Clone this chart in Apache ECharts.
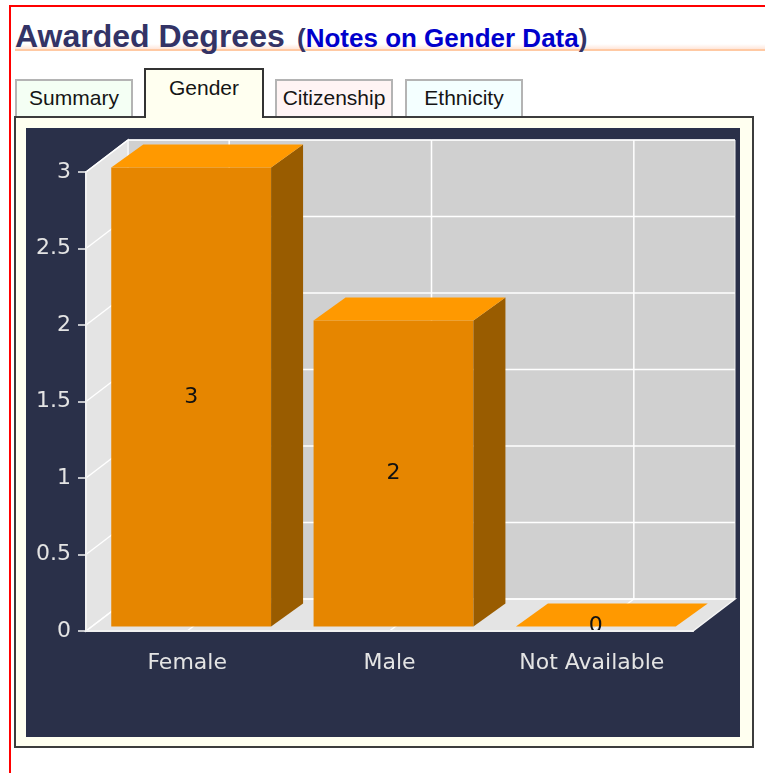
<!DOCTYPE html>
<html>
<head>
<meta charset="utf-8">
<title>Awarded Degrees</title>
<script src="https://cdn.jsdelivr.net/npm/echarts@6/dist/echarts.min.js"></script>
<style>
    html, body { margin: 0; padding: 0; background: #fff; width: 765px; height: 773px; overflow: hidden; }
    body { position: relative; font-family: 'Liberation Sans', Arial, sans-serif; }
    .frame { position: absolute; left: 9px; top: 5px; width: 800px; height: 800px; border-top: 2px solid #f00; border-left: 2px solid #f00; }
    .rule { position: absolute; left: 15px; top: 44px; width: 750px; height: 5px; background: linear-gradient(to bottom, rgba(255,232,222,0), #ffe6da); border-bottom: 2px solid #ffc9a3; }
    .title { position: absolute; left: 15px; top: 20px; font-size: 32px; line-height: 32px; font-weight: bold; color: #333366; white-space: nowrap; }
    .notes { position: absolute; left: 297px; top: 25px; font-size: 26px; line-height: 26px; font-weight: bold; color: #0000cc; white-space: nowrap; }
    .notes i { font-style: normal; color: #333366; }
    .tab { position: absolute; top: 79px; width: 118px; height: 38px; box-sizing: border-box; border: 2px solid #b4b4b4; border-bottom: none;
           font-size: 21px; line-height: 21px; padding-top: 6px; text-align: center; color: #151515; white-space: nowrap; }
    .tab.on { top: 68px; left: 144px; width: 120px; height: 50px; border-color: #333; background: #fffff0; padding-top: 7px; z-index: 3; }
    .panel { position: absolute; left: 14px; top: 116px; width: 740px; height: 632px; box-sizing: border-box; border: 2px solid #3c3c3c; background: #fffff0; z-index: 1; }
    #chart { position: absolute; left: 26px; top: 128px; width: 714px; height: 609px; z-index: 2; }
</style>
</head>
<body>
<div class="frame"></div>
<div class="rule"></div>
<div class="title">Awarded Degrees</div>
<div class="notes"><i>(</i>Notes on Gender Data<i>)</i></div>
<div class="tab" style="left:15px;background:#f4fff4;">Summary</div>
<div class="tab on">Gender</div>
<div class="tab" style="left:275px;background:#fff4f4;">Citizenship</div>
<div class="tab" style="left:405px;background:#f4ffff;">Ethnicity</div>
<div class="panel"></div>
<div id="chart"></div>
<script>
var categories = ['Female', 'Male', 'Not Available'];
var values = [3, 2, 0];
var yTicks = [0, 0.5, 1, 1.5, 2, 2.5, 3];

// depth of the box (walls) and of the bars, in pixels
var WALL = [42, -32];
var BAR_DEPTH = [32, -23];
var BAR_SHIFT = [4, -4.5];
var BAR_RATIO = 0.79;

function line(x1, y1, x2, y2) {
    return {
        type: 'line',
        shape: {x1: x1, y1: y1, x2: x2, y2: y2},
        style: {stroke: '#ffffff', lineWidth: 1.5}
    };
}

function renderWalls(params, api) {
    var cs = params.coordSys;
    var x0 = cs.x, x1 = cs.x + cs.width, yT = cs.y, yB = cs.y + cs.height;
    var dx = WALL[0], dy = WALL[1];
    var kids = [];
    kids.push({type: 'polygon', shape: {points: [[x0 + dx, yT + dy], [x1 + dx, yT + dy], [x1 + dx, yB + dy], [x0 + dx, yB + dy]]},
        style: {fill: '#d0d0d0', stroke: '#efefef', lineWidth: 1}});
    kids.push({type: 'polygon', shape: {points: [[x0, yT], [x0 + dx, yT + dy], [x0 + dx, yB + dy], [x0, yB]]},
        style: {fill: '#e4e4e4', stroke: '#f6f6f6', lineWidth: 1.5}});
    kids.push({type: 'polygon', shape: {points: [[x0, yB], [x1, yB], [x1 + dx, yB + dy], [x0 + dx, yB + dy]]},
        style: {fill: '#e4e4e4', stroke: '#f6f6f6', lineWidth: 1.5}});
    yTicks.forEach(function (t) {
        var y = api.coord([0, t])[1];
        kids.push(line(x0 + dx, y + dy, x1 + dx, y + dy));
        kids.push(line(x0, y, x0 + dx, y + dy));
    });
    categories.forEach(function (c, i) {
        var x = api.coord([i, 0])[0];
        kids.push(line(x + dx, yT + dy, x + dx, yB + dy));
        kids.push(line(x, yB, x + dx, yB + dy));
    });
    return {type: 'group', children: kids};
}

function renderBar(params, api) {
    var i = api.value(0), v = api.value(1);
    var top = api.coord([i, v]);
    var base = api.coord([i, 0]);
    var w = api.size([1, 0])[0] * BAR_RATIO;
    var x = top[0] - w / 2 + BAR_SHIFT[0];
    var yt = top[1] + BAR_SHIFT[1], yb = base[1] + BAR_SHIFT[1];
    var dx = BAR_DEPTH[0], dy = BAR_DEPTH[1];
    return {
        type: 'group',
        children: [
            {type: 'rect', shape: {x: x, y: yt, width: w, height: yb - yt}, style: {fill: '#e68600'}},
            {type: 'polygon', shape: {points: [[x + w, yt], [x + w + dx, yt + dy], [x + w + dx, yb + dy], [x + w, yb]]}, style: {fill: '#995c00'}},
            {type: 'polygon', shape: {points: [[x, yt], [x + w, yt], [x + w + dx, yt + dy], [x + dx, yt + dy]]}, style: {fill: '#ff9900'}},
            {type: 'text', style: {text: String(v), x: x + w / 2, y: (yt + yb) / 2, align: 'center', verticalAlign: 'middle',
                fill: '#111', font: '22px "DejaVu Sans"'}}
        ]
    };
}

var myChart = echarts.init(document.getElementById('chart'));
myChart.setOption({
    animation: false,
    backgroundColor: '#2a3049',
    grid: {left: 60, right: 47, top: 44, bottom: 106},
    xAxis: {
        type: 'category',
        data: categories,
        z: 10,
        axisLine: {lineStyle: {color: '#f2f2f2', width: 2}},
        axisTick: {alignWithLabel: true, length: 8, lineStyle: {color: '#f2f2f2', width: 1.5}},
        axisLabel: {color: '#e4e4e4', fontSize: 22, fontFamily: 'DejaVu Sans', margin: 21}
    },
    yAxis: {
        type: 'value',
        min: 0,
        max: 3,
        interval: 0.5,
        z: 10,
        axisLine: {show: true, lineStyle: {color: '#f2f2f2', width: 2}},
        axisTick: {show: true, length: 8, lineStyle: {color: '#f2f2f2', width: 1.5}},
        splitLine: {show: false},
        axisLabel: {color: '#e4e4e4', fontSize: 22, fontFamily: 'DejaVu Sans', margin: 15}
    },
    series: [{
        type: 'custom',
        name: 'walls',
        z: 1,
        silent: true,
        renderItem: renderWalls,
        data: [[0, 0]]
    }, {
        type: 'custom',
        name: 'Degrees',
        z: 3,
        renderItem: renderBar,
        data: values.map(function (v, i) { return [i, v]; })
    }]
});
</script>
</body>
</html>
